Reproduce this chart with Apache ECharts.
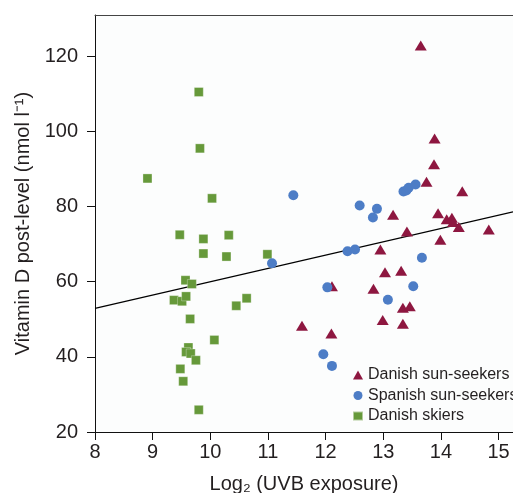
<!DOCTYPE html>
<html>
<head>
<meta charset="utf-8">
<script src="https://cdn.jsdelivr.net/npm/echarts@6/dist/echarts.min.js"></script>
<style>
  html, body { margin: 0; padding: 0; background: #fff; }
  #chart { width: 513px; height: 493px; }
</style>
</head>
<body>
<div id="chart"></div>
<script>
// x = log2(UVB exposure), y = vitamin D post-level
const sunDkX = [13.65, 13.89, 13.88, 13.75, 14.37, 13.17, 13.95, 14.10, 14.19, 14.21, 14.31, 14.83, 13.41, 13.99, 12.95, 13.03, 13.31, 12.11, 12.83, 13.34, 13.46, 12.99, 13.34, 11.59, 12.10];
const sunDkY = [122.9, 98.1, 91.3, 86.6, 84.1, 77.8, 78.2, 76.6, 77.0, 75.9, 74.6, 73.9, 73.4, 71.2, 68.6, 62.5, 62.9, 58.8, 58.1, 53.1, 53.5, 49.8, 48.8, 48.3, 46.2];

const sunEsX = [11.44, 12.59, 12.89, 12.82, 13.35, 13.40, 13.44, 13.56, 12.38, 12.51, 11.07, 13.67, 12.03, 13.52, 13.08, 11.96, 12.11];
const sunEsY = [83.0, 80.3, 79.4, 77.1, 84.0, 84.3, 85.0, 85.9, 68.1, 68.6, 64.9, 66.4, 58.5, 58.8, 55.2, 40.7, 37.6];

const skiX = [9.80, 9.82, 8.91, 10.03, 9.47, 9.88, 10.32, 9.88, 10.28, 10.99, 9.57, 9.68, 9.37, 9.51, 9.58, 9.65, 10.45, 10.63, 10.07, 9.62, 9.58, 9.66, 9.75, 9.48, 9.53, 9.80];
const skiY = [110.5, 95.5, 87.5, 82.2, 72.5, 71.4, 72.4, 67.5, 66.7, 67.3, 60.4, 59.4, 55.1, 54.8, 56.1, 50.1, 53.6, 55.6, 44.5, 42.5, 41.3, 40.9, 39.1, 36.8, 33.5, 25.9];

const fitX = [8, 15.25];
const fitY = [52.9, 78.6];

const xTicks = [8, 9, 10, 11, 12, 13, 14, 15];
const yTicks = [20, 40, 60, 80, 100, 120];

const names = ['Danish sun-seekers', 'Spanish sun-seekers', 'Danish skiers'];

const pairs = (xs, ys) => xs.map((x, i) => [x, ys[i]]);
const font = "'Liberation Sans', Arial, sans-serif";
const ink = '#231f20';

const chart = echarts.init(document.getElementById('chart'));

chart.setOption({
  animation: false,
  textStyle: { fontFamily: font },
  grid: {
    left: 95, right: 0, top: 15, bottom: 61,
    outerBoundsMode: 'none', containLabel: false,
    show: true, backgroundColor: '#fcfdfd', borderWidth: 0
  },
  legend: {
    data: names,
    orient: 'vertical',
    left: 352,
    top: 367,
    padding: 0,
    itemWidth: 10,
    itemHeight: 9,
    itemGap: 4.5,
    textStyle: { fontSize: 16, color: ink, fontFamily: font }
  },
  xAxis: [{
    type: 'value', min: 8, max: 15.25,
    name: 'Log\u2082 (UVB exposure)', nameLocation: 'middle', nameGap: 42,
    nameTextStyle: { fontSize: 20, color: ink, fontFamily: font },
    axisLine: { lineStyle: { color: '#111', width: 1 } },
    axisTick: { length: 8, lineStyle: { color: '#111' }, customValues: xTicks },
    axisLabel: { fontSize: 20, color: ink, margin: 10, customValues: xTicks },
    splitLine: { show: false }
  }, {
    type: 'value', position: 'top', min: 8, max: 15.25,
    axisLine: { show: true, lineStyle: { color: '#444', width: 1 } },
    axisTick: { show: false }, axisLabel: { show: false }, splitLine: { show: false }
  }],
  yAxis: {
    type: 'value', min: 20, max: 131,
    name: 'Vitamin D post-level (nmol l\u207B\u00B9)', nameLocation: 'middle', nameGap: 60,
    nameTextStyle: { fontSize: 20, color: ink, fontFamily: font },
    axisLine: { show: true, lineStyle: { color: '#111', width: 1 } },
    axisTick: { show: true, length: 8, lineStyle: { color: '#111' }, customValues: yTicks },
    axisLabel: { fontSize: 20, color: ink, margin: 17, customValues: yTicks },
    splitLine: { show: false }
  },
  series: [
    {
      name: 'fit', type: 'line', data: pairs(fitX, fitY), symbol: 'none', silent: true,
      lineStyle: { color: '#000', width: 1.2 }, z: 1
    },
    {
      name: names[0], type: 'scatter', data: pairs(sunDkX, sunDkY),
      symbol: 'triangle', symbolSize: [12, 10],
      itemStyle: { color: '#8e1740', opacity: 1 }, z: 2
    },
    {
      name: names[2], type: 'scatter', data: pairs(skiX, skiY),
      symbol: 'rect', symbolSize: 9,
      itemStyle: { color: '#66993a', borderColor: 'rgba(255,255,255,0.5)', borderWidth: 0.6, opacity: 1 }, z: 3
    },
    {
      name: names[1], type: 'scatter', data: pairs(sunEsX, sunEsY),
      symbol: 'circle', symbolSize: 10,
      itemStyle: { color: '#4d7dc6', opacity: 1 }, z: 4
    }
  ]
});
</script>
</body>
</html>
